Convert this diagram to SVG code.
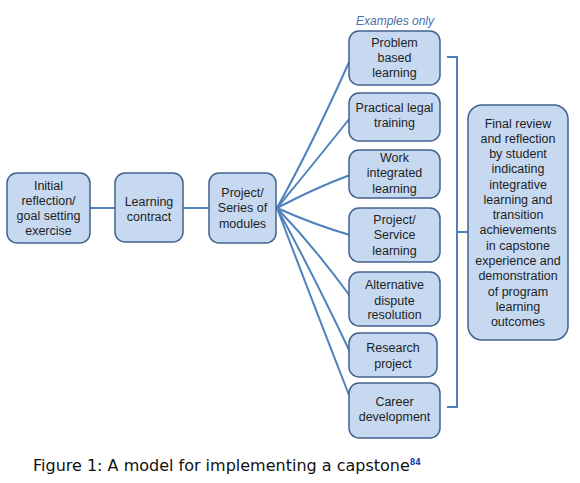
<svg xmlns="http://www.w3.org/2000/svg" width="580" height="483" viewBox="0 0 580 483">
<style>
.box{fill:#c6d9f1;stroke:#41628f;stroke-width:1.5}
.t{font-family:"Liberation Sans",Arial,sans-serif;font-size:12.5px;fill:#1e1e1e;text-anchor:middle}
.c{fill:none;stroke:#4f81bd;stroke-width:2}
</style>
<rect width="580" height="483" fill="#fff"/>
<g id="connectors">
<path class="c" d="M90,208 H115"/>
<path class="c" d="M183,208 H209"/>
<path class="c" d="M277,208 Q312,145 350,60"/>
<path class="c" d="M277,208 Q315,162 350,118"/>
<path class="c" d="M277,208 Q315,188 350,175"/>
<path class="c" d="M277,208 Q315,225 350,235"/>
<path class="c" d="M277,208 Q315,248 350,296"/>
<path class="c" d="M277,208 Q312,272 350,352"/>
<path class="c" d="M277,208 Q308,290 349,395"/>
<path class="c" d="M447,57 H457 V407 H447 M457,232 H468"/>
</g>
<text x="395" y="25" style="font-family:'Liberation Sans',Arial,sans-serif;font-size:12px;font-style:italic;fill:#4a6ca8;text-anchor:middle">Examples only</text>
<g id="n1"><rect class="box" x="7" y="173" width="83" height="70" rx="10"/>
<text class="t"><tspan x="48.5" y="190">Initial</tspan><tspan x="48.5" y="205">reflection/</tspan><tspan x="48.5" y="220">goal setting</tspan><tspan x="48.5" y="235">exercise</tspan></text></g>
<g id="n2"><rect class="box" x="115" y="173" width="68" height="69" rx="10"/>
<text class="t"><tspan x="149" y="206">Learning</tspan><tspan x="149" y="221">contract</tspan></text></g>
<g id="n3"><rect class="box" x="209" y="173" width="67" height="70" rx="10"/>
<text class="t"><tspan x="242.5" y="197">Project/</tspan><tspan x="242.5" y="212">Series of</tspan><tspan x="242.5" y="228">modules</tspan></text></g>
<g id="n4"><rect class="box" x="349" y="31" width="91" height="54" rx="10"/>
<text class="t"><tspan x="394.5" y="47">Problem</tspan><tspan x="394.5" y="62">based</tspan><tspan x="394.5" y="77">learning</tspan></text></g>
<g id="n5"><rect class="box" x="349" y="93" width="91" height="48" rx="10"/>
<text class="t"><tspan x="394.5" y="112">Practical legal</tspan><tspan x="394.5" y="127">training</tspan></text></g>
<g id="n6"><rect class="box" x="349" y="150" width="91" height="48" rx="10"/>
<text class="t"><tspan x="394.5" y="162">Work</tspan><tspan x="394.5" y="177">integrated</tspan><tspan x="394.5" y="193">learning</tspan></text></g>
<g id="n7"><rect class="box" x="349" y="208" width="91" height="54" rx="10"/>
<text class="t"><tspan x="394.5" y="224">Project/</tspan><tspan x="394.5" y="239">Service</tspan><tspan x="394.5" y="255">learning</tspan></text></g>
<g id="n8"><rect class="box" x="349" y="272" width="91" height="54" rx="10"/>
<text class="t"><tspan x="394.5" y="289">Alternative</tspan><tspan x="394.5" y="305">dispute</tspan><tspan x="394.5" y="319">resolution</tspan></text></g>
<g id="n9"><rect class="box" x="349" y="333" width="88" height="44" rx="10"/>
<text class="t"><tspan x="393" y="352">Research</tspan><tspan x="393" y="368">project</tspan></text></g>
<g id="n10"><rect class="box" x="349" y="383" width="91" height="55" rx="10"/>
<text class="t"><tspan x="394.5" y="406">Career</tspan><tspan x="394.5" y="421">development</tspan></text></g>
<g id="n11"><rect class="box" x="468" y="105" width="100" height="235" rx="14"/>
<text class="t"><tspan x="518" y="128">Final review</tspan><tspan x="518" y="143">and reflection</tspan><tspan x="518" y="158">by student</tspan><tspan x="518" y="173">indicating</tspan><tspan x="518" y="189">integrative</tspan><tspan x="518" y="204">learning and</tspan><tspan x="518" y="219">transition</tspan><tspan x="518" y="234">achievements</tspan><tspan x="518" y="250">in capstone</tspan><tspan x="518" y="265">experience and</tspan><tspan x="518" y="280">demonstration</tspan><tspan x="518" y="296">of program</tspan><tspan x="518" y="311">learning</tspan><tspan x="518" y="326">outcomes</tspan></text></g>
<text x="33" y="471" style="font-family:'DejaVu Sans',Verdana,sans-serif;font-size:16px;fill:#111">Figure 1: A model for implementing a capstone<tspan dy="-6" style="font-size:8px;font-weight:bold;fill:#1a3fb0">84</tspan></text>
</svg>
